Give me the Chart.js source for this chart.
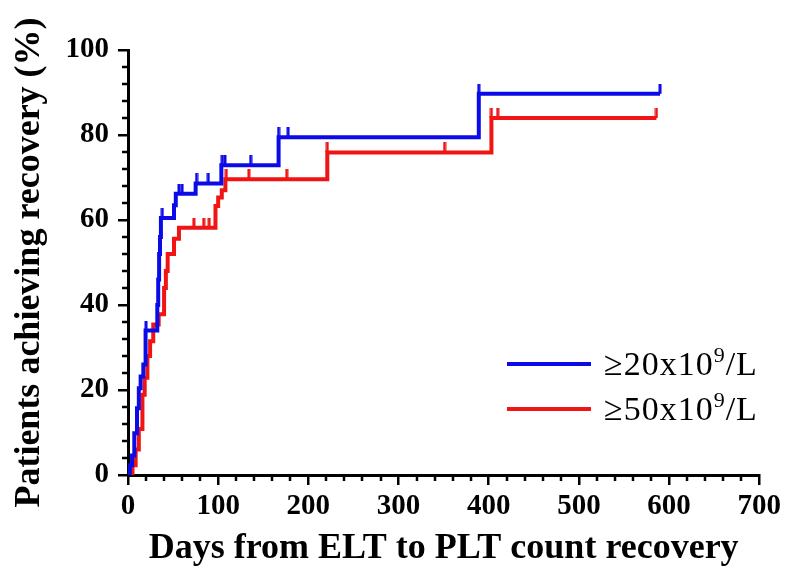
<!DOCTYPE html>
<html>
<head>
<meta charset="utf-8">
<script src="https://cdn.jsdelivr.net/npm/chart.js@4.4.0/dist/chart.umd.min.js"></script>
<style>
  body { margin: 0; background: #fff; }
  #wrap { position: relative; width: 785px; height: 571px; }
  .row { position: absolute; left: 507px; height: 34px; display: flex; align-items: center;
         font-family: "Liberation Serif", "Times New Roman", serif; font-size: 34px; color: #000;
         letter-spacing: 1px; }
  .swatch { display: inline-block; width: 84px; height: 4px; margin-right: 13px; }
  .row sup { font-size: 22px; vertical-align: 13px; line-height: 0; }
</style>
</head>
<body>
<div id="wrap">
  <canvas id="chart" width="785" height="571"></canvas>
  <div id="legend"></div>
</div>
<script>
// step points of the two cumulative curves (days, % achieving recovery)
var blueDays = [0, 2, 4.5, 7, 10, 12, 14, 17, 19.5, 32.5, 33.5, 34.5, 35.5, 36.5, 51, 53, 75, 103.5, 167, 389, 590]
var blueRate = [0, 2.3, 4.6, 9.8, 15.7, 20.4, 23.2, 26, 34, 40, 46, 52, 56, 60.5, 63.5, 66.2, 68.6, 72.9, 79.5, 89.7, 89.7]
var redDays = [0, 5, 8.5, 12, 16, 18.5, 21.5, 24.5, 28, 34, 40, 42, 44, 51, 56.5, 97, 100, 104, 108, 221, 403, 586]
var redRate = [0, 2.3, 6, 10.8, 18.9, 22.9, 28, 31.5, 35.4, 37.8, 44, 48, 52, 55.6, 58.2, 63.3, 65.3, 67, 69.6, 75.9, 84, 84]

// censored observations (days)
var blueCensor = [20, 38, 56.5, 60, 76, 89, 104.5, 107.5, 136, 167, 177.5, 389, 590]
var redCensor = [73, 84, 90, 109, 134, 176, 221, 351, 403, 410, 586]

var seriesNames = ['\u226520x10', '\u226550x10']
var seriesColors = ['#0b0be8', '#f01414']

var xTicks = [0, 100, 200, 300, 400, 500, 600, 700]
var yTicks = [0, 20, 40, 60, 80, 100]

function stepPoints(days, rate) {
    return days.map((d, i) => ({x: d, y: rate[i]}))
}

// value of the step curve at time t
function valueAt(days, rate, t) {
    var v = 0
    for (var i = 0; i < days.length; i++) {
        if (days[i] <= t) v = rate[i]
    }
    return v
}

function censorPoints(times, days, rate) {
    return times.map(t => ({x: t, y: valueAt(days, rate, t)}))
}

// small upward tick used as marker for censored patients
function tickMark(color) {
    var c = document.createElement('canvas')
    c.width = 4
    c.height = 20
    var g = c.getContext('2d')
    g.fillStyle = color
    g.fillRect(0.5, 0, 3, 10)
    return c
}

var minorTicks = {
    id: 'minorTicks',
    afterDraw(chart) {
        var ctx = chart.ctx
        var xs = chart.scales.x, ys = chart.scales.y
        ctx.save()
        ctx.strokeStyle = '#000'
        ctx.lineWidth = 2.5
        ctx.beginPath()
        for (var v = 0; v <= 700; v += 20) {
            if (v % 100 === 0) continue
            var px = Math.round(xs.getPixelForValue(v))
            ctx.moveTo(px, xs.top)
            ctx.lineTo(px, xs.top + 6)
        }
        for (var w = 0; w <= 100; w += 4) {
            if (w % 20 === 0) continue
            var py = Math.round(ys.getPixelForValue(w))
            ctx.moveTo(ys.right, py)
            ctx.lineTo(ys.right - 6, py)
        }
        ctx.stroke()
        ctx.restore()
    }
}

var serif = '"Liberation Serif", "Times New Roman", serif'

new Chart(document.getElementById('chart'), {
    type: 'line',
    data: {
        datasets: [
            {label: seriesNames[0], data: stepPoints(blueDays, blueRate), stepped: true,
             borderColor: seriesColors[0], borderWidth: 4, pointRadius: 0, fill: false},
            {label: seriesNames[1], data: stepPoints(redDays, redRate), stepped: true,
             borderColor: seriesColors[1], borderWidth: 4, pointRadius: 0, fill: false},
            {label: 'c1', data: censorPoints(blueCensor, blueDays, blueRate), showLine: false,
             pointStyle: tickMark(seriesColors[0]), pointRadius: 5},
            {label: 'c2', data: censorPoints(redCensor, redDays, redRate), showLine: false,
             pointStyle: tickMark(seriesColors[1]), pointRadius: 5}
        ]
    },
    options: {
        responsive: false,
        animation: false,
        layout: {padding: {top: 50, right: 24, left: 0, bottom: 0}},
        plugins: {legend: {display: false}, tooltip: {enabled: false}},
        scales: {
            x: {
                type: 'linear', min: 0, max: 700,
                afterBuildTicks: s => { s.ticks = xTicks.map(v => ({value: v})) },
                afterFit: s => { s.height = 96 },
                border: {display: true, color: '#000', width: 3},
                grid: {drawOnChartArea: false, color: '#000', lineWidth: 2.5, tickLength: 10},
                ticks: {color: '#000', padding: 4, maxRotation: 0, font: {family: serif, size: 29, weight: 'bold'}},
                title: {display: true, text: 'Days from ELT to PLT count recovery', color: '#000',
                        padding: {top: 0, bottom: 1}, font: {family: serif, size: 36, weight: 'bold'}}
            },
            y: {
                min: 0, max: 100,
                afterBuildTicks: s => { s.ticks = yTicks.map(v => ({value: v})) },
                afterFit: s => { s.width = 128 },
                border: {display: true, color: '#000', width: 3},
                grid: {drawOnChartArea: false, color: '#000', lineWidth: 2.5, tickLength: 10},
                ticks: {color: '#000', padding: 9, font: {family: serif, size: 29, weight: 'bold'}},
                title: {display: true, text: 'Patients achieving recovery (%)', color: '#000',
                        padding: {top: 8, bottom: 0}, font: {family: serif, size: 36, weight: 'bold'}}
            }
        }
    },
    plugins: [minorTicks]
});

// legend rows
var legend = document.getElementById('legend')
var rowTops = [347, 392]
seriesNames.forEach((name, i) => {
    var row = document.createElement('div')
    row.className = 'row'
    row.style.top = rowTops[i] + 'px'
    row.innerHTML = '<span class="swatch" style="background:' + seriesColors[i] + '"></span>' +
        '<span>' + name + '<sup>9</sup>/L</span>'
    legend.appendChild(row)
})
</script>
</body>
</html>
